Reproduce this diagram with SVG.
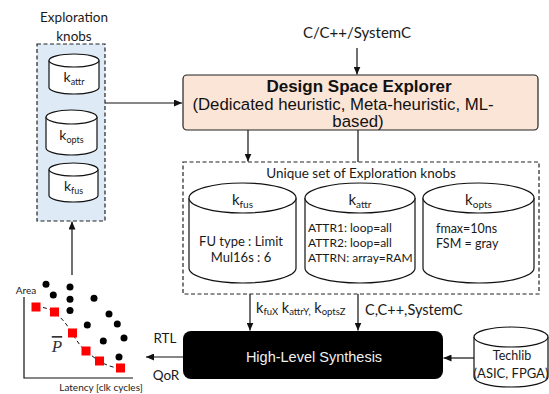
<svg xmlns="http://www.w3.org/2000/svg" width="549" height="394" viewBox="0 0 549 394">
<defs>
<marker id="ah" markerUnits="userSpaceOnUse" markerWidth="8" markerHeight="7" refX="8" refY="3.5" orient="auto">
<path d="M0,0 L8,3.5 L0,7 z" fill="#111"/>
</marker>
<style>
.t{font-family:Lato,"Liberation Sans",sans-serif;fill:#1a1a1a}
.ar{font-family:"Liberation Sans",Arial,sans-serif;fill:#111}
.ln{stroke:#111;stroke-width:1.2;fill:none}
.cyl{fill:#fff;stroke:#111;stroke-width:1.2}
.dash{stroke:#222;stroke-width:1.2;stroke-dasharray:4 2.5}
.dot{fill:#000}
.sq{fill:#ff0000}
</style>
</defs>

<g id="connectors">
<line class="ln" x1="105" y1="103" x2="182" y2="103" marker-end="url(#ah)"/>
<line class="ln" x1="357" y1="48" x2="357" y2="74.5" marker-end="url(#ah)"/>
<line class="ln" x1="248" y1="130" x2="248" y2="161.5" marker-end="url(#ah)"/>
<line class="ln" x1="358" y1="130" x2="358" y2="162"/>
<line class="ln" x1="250" y1="294" x2="250" y2="330.5" marker-end="url(#ah)"/>
<line class="ln" x1="358" y1="294" x2="358" y2="330.5" marker-end="url(#ah)"/>
<line class="ln" x1="474" y1="358" x2="443.5" y2="358" marker-end="url(#ah)"/>
<line class="ln" x1="183" y1="357" x2="146" y2="357" marker-end="url(#ah)"/>
<line class="ln" x1="72" y1="275" x2="72" y2="221.5" marker-end="url(#ah)"/>
</g>

<g id="knobs-panel">
<text class="t" x="74" y="22" font-size="13.5" text-anchor="middle">Exploration</text>
<text class="t" x="74" y="41" font-size="13.5" text-anchor="middle">knobs</text>
<rect class="dash" x="37" y="44" width="68" height="177" fill="#DEEBF7"/>
<g id="panel-kattr">
<path class="cyl" d="M49,60.5 V87.5 A25,6.5 0 0 0 99,87.5 V60.5"/>
<ellipse class="cyl" cx="74" cy="60.5" rx="25" ry="6.5"/>
<text class="t" x="74" y="82" font-size="14" text-anchor="middle">k<tspan font-size="9" dy="3">attr</tspan></text>
</g>
<g id="panel-kopts">
<path class="cyl" d="M46,117 V148 A25.5,7 0 0 0 97,148 V117"/>
<ellipse class="cyl" cx="71.5" cy="117" rx="25.5" ry="7"/>
<text class="t" x="71.5" y="140" font-size="14" text-anchor="middle">k<tspan font-size="9" dy="3">opts</tspan></text>
</g>
<g id="panel-kfus">
<path class="cyl" d="M49,169.5 V195.5 A24.5,6.5 0 0 0 98,195.5 V169.5"/>
<ellipse class="cyl" cx="73.5" cy="169.5" rx="24.5" ry="6.5"/>
<text class="t" x="73.5" y="191" font-size="14" text-anchor="middle">k<tspan font-size="9" dy="3">fus</tspan></text>
</g>
</g>

<g id="input-label">
<text class="t" x="357" y="38" font-size="15" text-anchor="middle">C/C++/SystemC</text>
</g>

<g id="dse">
<rect x="183" y="75" width="355" height="55" rx="4" fill="#FBE5D6" stroke="#222" stroke-width="1.2"/>
<text class="ar" x="359" y="92" font-size="17" font-weight="bold" text-anchor="middle">Design Space Explorer</text>
<text class="ar" x="343" y="110" font-size="16.8" text-anchor="middle">(Dedicated heuristic, Meta-heuristic, ML-</text>
<text class="ar" x="358" y="127" font-size="16.8" text-anchor="middle">based)</text>
</g>

<g id="unique-set">
<rect class="dash" x="183" y="162" width="356" height="132" fill="#fff"/>
<text class="t" x="361" y="178" font-size="13.5" text-anchor="middle">Unique set of Exploration knobs</text>
<g id="kfus">
<path class="cyl" d="M189,198 V268 A53.5,15 0 0 0 296,268 V198"/>
<ellipse class="cyl" cx="242.5" cy="198" rx="53.5" ry="15"/>
<text class="t" x="242.5" y="205" font-size="15" text-anchor="middle">k<tspan font-size="10" dy="3">fus</tspan></text>
<text class="t" x="241" y="246" font-size="13" text-anchor="middle">FU type : Limit</text>
<text class="t" x="241" y="262" font-size="13" text-anchor="middle">Mul16s : 6</text>
</g>
<g id="kattr">
<path class="cyl" d="M305,198 V268 A55,15 0 0 0 415,268 V198"/>
<ellipse class="cyl" cx="360" cy="198" rx="55" ry="15"/>
<text class="t" x="360" y="205" font-size="15" text-anchor="middle">k<tspan font-size="10" dy="3">attr</tspan></text>
<text class="t" x="308" y="232" font-size="12">ATTR1: loop=all</text>
<text class="t" x="308" y="247" font-size="12">ATTR2: loop=all</text>
<text class="t" x="308" y="262" font-size="12">ATTRN: array=RAM</text>
</g>
<g id="kopts">
<path class="cyl" d="M423,198 V268 A55.5,15 0 0 0 534,268 V198"/>
<ellipse class="cyl" cx="478.5" cy="198" rx="55.5" ry="15"/>
<text class="t" x="478.5" y="205" font-size="15" text-anchor="middle">k<tspan font-size="10" dy="3">opts</tspan></text>
<text class="t" x="436" y="233" font-size="12.5">fmax=10ns</text>
<text class="t" x="436" y="248" font-size="12.5">FSM = gray</text>
</g>
</g>

<g id="edge-labels">
<text class="t" x="256" y="313" font-size="14.5">k<tspan font-size="9.5" dy="2">fuX</tspan><tspan dy="-2"> k</tspan><tspan font-size="9.5" dy="2">attrY,</tspan><tspan dy="-2"> k</tspan><tspan font-size="9.5" dy="2">optsZ</tspan></text>
<text class="t" x="365" y="315" font-size="14.5">C,C++,SystemC</text>
<text class="t" x="165" y="343" font-size="13.5" text-anchor="middle">RTL</text>
<text class="t" x="166" y="380" font-size="13.5" text-anchor="middle">QoR</text>
</g>

<g id="hls">
<rect x="183" y="331" width="260" height="48" rx="8" fill="#000"/>
<text class="ar" x="314" y="362" font-size="14.5" text-anchor="middle" style="fill:#f0f0f0">High-Level Synthesis</text>
</g>

<g id="techlib">
<path class="cyl" d="M474,337 V377 A37,10 0 0 0 548,377 V337"/>
<ellipse class="cyl" cx="511" cy="337" rx="37" ry="10"/>
<text class="t" x="512" y="360" font-size="12.5" text-anchor="middle">Techlib</text>
<text class="t" x="511" y="378" font-size="13" text-anchor="middle">(ASIC, FPGA)</text>
</g>

<g id="pareto-plot">
<path class="ln" d="M24,297 V378 H133"/>
<text class="t" x="26" y="294" font-size="10" text-anchor="middle">Area</text>
<text class="t" x="101" y="391" font-size="10" text-anchor="middle">Latency  [clk cycles]</text>
<path d="M36,307 C50,306 62,316 72,333 C78,343 82,348 86,351 C92,356 96,359 99,361 C106,365 113,368 121,368" fill="none" stroke="#111" stroke-width="1" stroke-dasharray="4 3"/>
<circle class="dot" cx="46" cy="284.3" r="3.5"/>
<circle class="dot" cx="70" cy="287" r="3.5"/>
<circle class="dot" cx="53.3" cy="295" r="3.5"/>
<circle class="dot" cx="70" cy="299.3" r="3.5"/>
<circle class="dot" cx="94" cy="298.3" r="3.5"/>
<circle class="dot" cx="70" cy="310.5" r="3.5"/>
<circle class="dot" cx="109" cy="314" r="3.5"/>
<circle class="dot" cx="117.3" cy="324" r="3.5"/>
<circle class="dot" cx="87.3" cy="325" r="3.5"/>
<circle class="dot" cx="124" cy="338" r="3.5"/>
<circle class="dot" cx="103.3" cy="341" r="3.5"/>
<circle class="dot" cx="119" cy="357" r="3.5"/>
<rect class="sq" x="31.5" y="302.5" width="9" height="9"/>
<rect class="sq" x="50" y="307.5" width="9" height="9"/>
<rect class="sq" x="68" y="328.5" width="9" height="9"/>
<rect class="sq" x="81.5" y="346.5" width="9" height="9"/>
<rect class="sq" x="95" y="356.5" width="9" height="9"/>
<rect class="sq" x="116" y="363.5" width="9" height="9"/>
<text x="57" y="352" font-family="'Liberation Serif',serif" font-style="italic" font-size="17" text-anchor="middle" text-decoration="overline" fill="#333">P</text>
</g>
</svg>
